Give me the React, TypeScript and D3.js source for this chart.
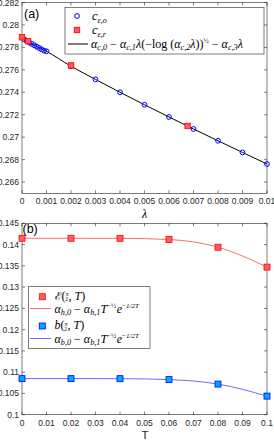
import React from "react";
import * as d3 from "d3";

// panel (a): c_eps vs lambda
const lamO = [0.0001, 0.0002, 0.0003, 0.0004, 0.0005, 0.0006, 0.0007, 0.0008, 0.0009, 0.001,
  0.002, 0.003, 0.004, 0.005, 0.006, 0.007, 0.008, 0.009, 0.01];
const cO = [0.27870, 0.27856, 0.27843, 0.27831, 0.27819, 0.27807, 0.27795, 0.27783, 0.27771, 0.27765,
  0.27632, 0.27515, 0.27400, 0.27289, 0.27180, 0.27073, 0.26968, 0.26864, 0.26761];
const lamR = [0, 0.00025, 0.002, 0.00676];
const cR = [0.27890, 0.27856, 0.27639, 0.27100];
const fitLam = [0, 0.0001, 0.0005, 0.001, 0.002, 0.003, 0.004, 0.005, 0.006, 0.007, 0.008, 0.009, 0.01];
const fitC = [0.27890, 0.27870, 0.27819, 0.27765, 0.27632, 0.27515, 0.27400, 0.27289, 0.27180, 0.27073, 0.26968, 0.26864, 0.26761];
const yTicksA = [0.266, 0.268, 0.27, 0.272, 0.274, 0.276, 0.278, 0.28, 0.282];
const xTicksA = [0, 0.001, 0.002, 0.003, 0.004, 0.005, 0.006, 0.007, 0.008, 0.009, 0.01];

// panel (b): E and b vs T
const T = [0, 0.02, 0.04, 0.06, 0.08, 0.1];
const eVals = [0.14148, 0.14148, 0.14147, 0.14118, 0.13937, 0.13470];
const bVals = [0.10848, 0.10848, 0.10847, 0.10825, 0.10720, 0.10437];
const yTicksB = [0.1, 0.105, 0.11, 0.115, 0.12, 0.125, 0.13, 0.135, 0.14, 0.145];
const xTicksB = [0, 0.01, 0.02, 0.03, 0.04, 0.05, 0.06, 0.07, 0.08, 0.09, 0.1];

const L = 22, R = 267;
const AX = "#262626";
const tickFont = "'Liberation Sans', Arial, sans-serif";
const mathFont = "'Liberation Serif', 'DejaVu Serif', serif";

const fmt = (v: number) => String(+v.toFixed(4));

function Frame({ x, y, xt, yt, tick = 3 }: any) {
  const [x0, x1] = x.range();
  const [y0, y1] = y.range(); // y0 bottom, y1 top
  return (
    <g>
      <rect x={x0} y={y1} width={x1 - x0} height={y0 - y1} fill="none" stroke={AX} strokeWidth={0.6} />
      {xt.map((t: number) => (
        <g key={"x" + t}>
          <line x1={x(t)} x2={x(t)} y1={y0} y2={y0 - tick} stroke={AX} strokeWidth={0.6} />
          <line x1={x(t)} x2={x(t)} y1={y1} y2={y1 + tick} stroke={AX} strokeWidth={0.6} />
          <text x={x(t)} y={y0 + 11} textAnchor="middle" fontSize={8.5} fill={AX} fontFamily={tickFont}>{fmt(t)}</text>
        </g>
      ))}
      {yt.map((t: number) => (
        <g key={"y" + t}>
          <line x1={x0} x2={x0 + tick} y1={y(t)} y2={y(t)} stroke={AX} strokeWidth={0.6} />
          <line x1={x1} x2={x1 - tick} y1={y(t)} y2={y(t)} stroke={AX} strokeWidth={0.6} />
          <text x={x0 - 3} y={y(t) + 3} textAnchor="end" fontSize={8.5} fill={AX} fontFamily={tickFont}>{fmt(t)}</text>
        </g>
      ))}
    </g>
  );
}

export default function App() {
  const xa = d3.scaleLinear().domain([0, 0.01]).range([L, R]);
  const ya = d3.scaleLinear().domain([0.265, 0.282]).range([193.3, 2.5]);
  const xb = d3.scaleLinear().domain([0, 0.1]).range([L, R]);
  const yb = d3.scaleLinear().domain([0.1, 0.145]).range([414.7, 223.3]);

  const fitLine = d3.line<number>().x((d) => xa(d)).y((_, i) => ya(fitC[i])).curve(d3.curveMonotoneX);
  const eLine = d3.line<number>().x((d) => xb(d)).y((_, i) => yb(eVals[i])).curve(d3.curveMonotoneX);
  const bLine = d3.line<number>().x((d) => xb(d)).y((_, i) => yb(bVals[i])).curve(d3.curveMonotoneX);

  const sq = 5.5;
  const sub = { fontSize: 8.2 };
  const sup = { fontSize: 7 };

  const hFormula = (k: string) => (
    <>
      <tspan fontStyle="italic">α</tspan>
      <tspan dy={2.8} {...sub} fontStyle="italic">{k},0</tspan>
      <tspan dy={-2.8}> − </tspan>
      <tspan fontStyle="italic">α</tspan>
      <tspan dy={2.8} {...sub} fontStyle="italic">{k},1</tspan>
      <tspan dy={-2.8} fontStyle="italic">T</tspan>
      <tspan dy={-4.8} {...sup}>−½</tspan>
      <tspan dy={4.8} dx={0.5} fontStyle="italic">e</tspan>
      <tspan dy={-4.8} {...sup}>−</tspan>
      <tspan {...sup} fontStyle="italic">1/2T</tspan>
    </>
  );

  // Ɛ(π/2, T) / b(π/2, T) with a small stacked fraction
  const valLabel = (head: any) => (
    <>
      {head}
      <tspan>(</tspan>
      <tspan fontSize={5.8} dy={-3.4} fontStyle="italic">π</tspan>
      <tspan fontSize={5.5} dx={-3.2} dy={5.2}>2</tspan>
      <tspan dy={-1.8} dx={0.6}>, </tspan>
      <tspan fontStyle="italic">T</tspan>
      <tspan>)</tspan>
    </>
  );

  return (
    <svg width={274} height={440} style={{ position: "absolute", left: 0, top: 0, background: "#fff" }}>
      {/* panel (a) */}
      <Frame x={xa} y={ya} xt={xTicksA} yt={yTicksA} />
      <path d={fitLine(fitLam) || ""} fill="none" stroke="#000" strokeWidth={1} />
      {lamO.map((l, i) => (
        <circle key={"o" + i} cx={xa(l)} cy={ya(cO[i])} r={2.4} fill="none" stroke="#0000ff" strokeWidth={1} />
      ))}
      {lamR.map((l, i) => (
        <rect key={"r" + i} x={xa(l) - sq / 2} y={ya(cR[i]) - sq / 2} width={sq} height={sq} fill="#ff5a5a" stroke="#ff0000" strokeWidth={0.8} />
      ))}
      <text x={24} y={18} fontSize={12.5} fill="#000" fontFamily={tickFont}>(a)</text>
      <text x={144.5} y={218} fontSize={12} fontStyle="italic" fontFamily={mathFont} textAnchor="middle">λ</text>

      {/* legend (a) */}
      <rect x={65} y={7.5} width={199} height={46.5} fill="#fff" stroke={AX} strokeWidth={0.6} />
      <circle cx={77} cy={16} r={2.4} fill="none" stroke="#0000ff" strokeWidth={1} />
      <rect x={77 - sq / 2} y={30 - sq / 2} width={sq} height={sq} fill="#ff5a5a" stroke="#ff0000" strokeWidth={0.8} />
      <line x1={68} x2={88} y1={44} y2={44} stroke="#000" strokeWidth={1} />
      <g fontFamily={mathFont} fontSize={12.5} fill="#000">
        <text x={92} y={19.5}>
          <tspan fontStyle="italic">c</tspan>
          <tspan dy={3} {...sub} fontStyle="italic">ε,o</tspan>
        </text>
        <text x={92} y={33.5}>
          <tspan fontStyle="italic">c</tspan>
          <tspan dy={3} {...sub} fontStyle="italic">ε,r</tspan>
        </text>
        <text x={91} y={47.5} fontSize={12}>
          <tspan fontStyle="italic">α</tspan>
          <tspan dy={2.8} {...sub} fontStyle="italic">c,0</tspan>
          <tspan dy={-2.8}> − </tspan>
          <tspan fontStyle="italic">α</tspan>
          <tspan dy={2.8} {...sub} fontStyle="italic">c,1</tspan>
          <tspan dy={-2.8} fontStyle="italic">λ</tspan>
          <tspan>(−log (</tspan>
          <tspan fontStyle="italic">α</tspan>
          <tspan dy={2.8} {...sub} fontStyle="italic">c,2</tspan>
          <tspan dy={-2.8} fontStyle="italic">λ</tspan>
          <tspan>))</tspan>
          <tspan dy={-4.8} {...sup}>½</tspan>
          <tspan dy={4.8}> − </tspan>
          <tspan fontStyle="italic">α</tspan>
          <tspan dy={2.8} {...sub} fontStyle="italic">c,3</tspan>
          <tspan dy={-2.8} fontStyle="italic">λ</tspan>
        </text>
      </g>

      {/* panel (b) */}
      <Frame x={xb} y={yb} xt={xTicksB} yt={yTicksB} />
      <path d={eLine(T) || ""} fill="none" stroke="#ff6b6b" strokeWidth={1} />
      <path d={bLine(T) || ""} fill="none" stroke="#6b6bff" strokeWidth={1} />
      {T.map((t, i) => (
        <rect key={"e" + i} x={xb(t) - 3} y={yb(eVals[i]) - 3} width={6} height={6} fill="#ff6060" stroke="#ff0000" strokeWidth={0.8} />
      ))}
      {T.map((t, i) => (
        <rect key={"b" + i} x={xb(t) - 3} y={yb(bVals[i]) - 3} width={6} height={6} fill="#00a8ff" stroke="#0000ff" strokeWidth={0.8} />
      ))}
      <text x={22.5} y={233} fontSize={12.5} fill="#000" fontFamily={tickFont}>(b)</text>
      <text x={145} y={439} fontSize={11.5} fontFamily={tickFont} textAnchor="middle" fill={AX}>T</text>

      {/* legend (b) */}
      <rect x={28.5} y={286.7} width={121.5} height={61.6} fill="#fff" stroke={AX} strokeWidth={0.6} />
      <rect x={42.3 - 3} y={296.7 - 3} width={6} height={6} fill="#ff6060" stroke="#ff0000" strokeWidth={0.8} />
      <line x1={30} x2={51} y1={308.5} y2={308.5} stroke="#ff6b6b" strokeWidth={1} />
      <rect x={42.3 - 3} y={326 - 3} width={6} height={6} fill="#00a8ff" stroke="#0000ff" strokeWidth={0.8} />
      <line x1={30} x2={51} y1={338.5} y2={338.5} stroke="#6b6bff" strokeWidth={1} />
      <g fontFamily={mathFont} fontSize={12} fill="#000">
        <text x={54.5} y={299.5}>
          {valLabel(<tspan fontFamily="'DejaVu Serif', serif" fontSize={11}>ℰ</tspan>)}
        </text>
        <text x={54.5} y={312.5}>{hFormula("h")}</text>
        <text x={54.5} y={329}>
          {valLabel(<tspan fontStyle="italic">b</tspan>)}
        </text>
        <text x={54.5} y={342.5}>{hFormula("b")}</text>
      </g>
    </svg>
  );
}
